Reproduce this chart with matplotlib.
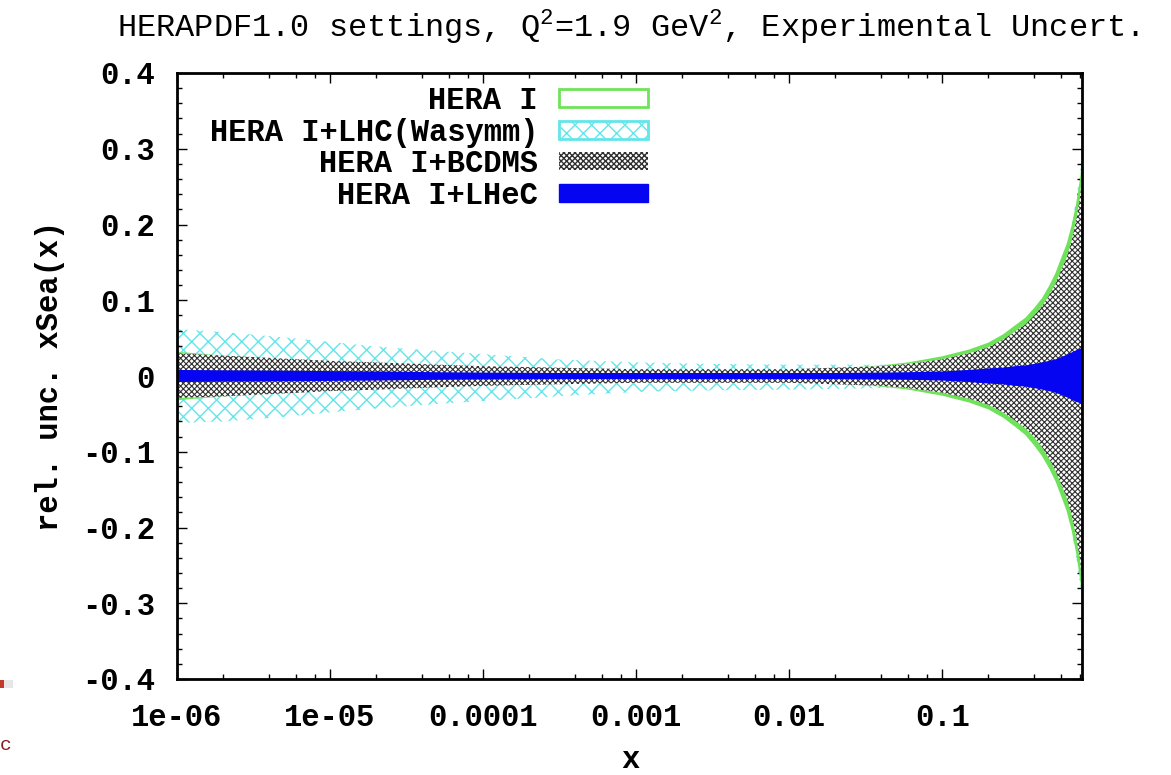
import matplotlib
matplotlib.use("Agg")
import matplotlib.pyplot as plt
from matplotlib.patches import Patch, Rectangle
from matplotlib.ticker import FixedLocator, LogLocator, NullFormatter, MultipleLocator

plt.rcParams['font.family'] = ['Liberation Mono', 'DejaVu Sans']
plt.rcParams['mathtext.fontset'] = 'custom'
plt.rcParams['mathtext.rm'] = 'Liberation Mono'

# x grid of the uncertainty bands
x = [1e-6, 2e-6, 5e-6, 1e-5, 2e-5, 5e-5, 1e-4, 3e-4, 1e-3, 3e-3, 1e-2, 2e-2, 4e-2, 6e-2,
     0.1, 0.15, 0.2, 0.25, 0.3, 0.35, 0.4, 0.45, 0.5, 0.55, 0.6, 0.65, 0.7, 0.75, 0.8, 0.82]

# relative uncertainty, upper / lower edge of each band
hera_up = [0.032, 0.027, 0.022, 0.019, 0.017, 0.014, 0.012, 0.010, 0.008, 0.008, 0.008, 0.010, 0.014, 0.018,
           0.026, 0.035, 0.044, 0.055, 0.067, 0.077, 0.090, 0.103, 0.119, 0.136, 0.156, 0.174, 0.198, 0.227, 0.263, 0.290]
hera_lo = [-0.032, -0.027, -0.022, -0.019, -0.017, -0.014, -0.012, -0.010, -0.008, -0.008, -0.008, -0.010, -0.014, -0.018,
           -0.026, -0.035, -0.044, -0.055, -0.067, -0.078, -0.092, -0.106, -0.122, -0.139, -0.159, -0.178, -0.203, -0.233, -0.271, -0.298]

lhc_up = [0.062, 0.058, 0.051, 0.045, 0.039, 0.033, 0.029, 0.022, 0.018, 0.016, 0.015, 0.015, 0.015, 0.016,
          0.020, 0.028, 0.036, 0.046, 0.056, 0.066, 0.078, 0.090, 0.105, 0.120, 0.140, 0.160, 0.200, 0.232, 0.272, 0.305]
lhc_lo = [-0.062, -0.060, -0.054, -0.048, -0.043, -0.037, -0.033, -0.027, -0.021, -0.019, -0.018, -0.017, -0.016, -0.016,
          -0.020, -0.028, -0.036, -0.046, -0.056, -0.066, -0.078, -0.090, -0.105, -0.120, -0.140, -0.160, -0.205, -0.238, -0.278, -0.310]

bcdms_up = [0.030, 0.027, 0.023, 0.020, 0.018, 0.015, 0.013, 0.011, 0.009, 0.009, 0.009, 0.011, 0.013, 0.016,
            0.022, 0.030, 0.038, 0.048, 0.059, 0.068, 0.080, 0.092, 0.107, 0.122, 0.140, 0.156, 0.178, 0.205, 0.240, 0.268]
bcdms_lo = [-0.029, -0.027, -0.023, -0.020, -0.018, -0.015, -0.013, -0.011, -0.009, -0.009, -0.009, -0.011, -0.013, -0.016,
            -0.022, -0.030, -0.038, -0.048, -0.059, -0.069, -0.081, -0.094, -0.109, -0.125, -0.143, -0.160, -0.183, -0.211, -0.247, -0.275]

lhec_up = [0.008, 0.0075, 0.007, 0.0065, 0.006, 0.005, 0.0045, 0.004, 0.004, 0.004, 0.004, 0.004, 0.0045, 0.005,
           0.006, 0.008, 0.010, 0.011, 0.013, 0.014, 0.016, 0.018, 0.020, 0.022, 0.025, 0.028, 0.031, 0.034, 0.036, 0.037]
lhec_lo = [-v for v in lhec_up]

labels = ["HERA I", "HERA I+LHC(Wasymm)", "HERA I+BCDMS", "HERA I+LHeC"]
xticks = [1e-6, 1e-5, 1e-4, 1e-3, 1e-2, 0.1]
xticklabels = ["1e-06", "1e-05", "0.0001", "0.001", "0.01", "0.1"]
yticks = [-0.4, -0.3, -0.2, -0.1, 0.0, 0.1, 0.2, 0.3, 0.4]
yticklabels = ["-0.4", "-0.3", "-0.2", "-0.1", "0", "0.1", "0.2", "0.3", "0.4"]

green = '#6ee35a'
cyan = '#62e6ea'
blue = '#0505f2'
grey = '#303030'

W, H = 1171, 775
fig = plt.figure(figsize=(W / 100, H / 100), dpi=100)
ax = fig.add_axes([177 / W, 1 - 679 / H, (1082 - 177) / W, (679 - 73) / H])


def set_hlw(coll, lw):
    if hasattr(coll, 'set_hatch_linewidth'):
        coll.set_hatch_linewidth(lw)


with plt.rc_context({'hatch.linewidth': 1.0}):
    c1 = ax.fill_between(x, lhc_lo, lhc_up, facecolor='white', edgecolor=cyan, hatch='xx', linewidth=0, zorder=1)
set_hlw(c1, 1.0)
ax.fill_between(x, hera_lo, hera_up, facecolor=green, edgecolor='none', linewidth=0, zorder=2)
with plt.rc_context({'hatch.linewidth': 0.8}):
    c3 = ax.fill_between(x, bcdms_lo, bcdms_up, facecolor='white', edgecolor=grey, hatch='xxxxxx', linewidth=0, zorder=3)
set_hlw(c3, 0.8)
ax.fill_between(x, lhec_lo, lhec_up, facecolor=blue, edgecolor='none', linewidth=0, zorder=4)

ax.set_xscale('log')
ax.set_xlim(1e-6, 0.82)
ax.set_ylim(-0.4, 0.4)
ax.xaxis.set_major_locator(FixedLocator(xticks))
ax.set_xticklabels(xticklabels)
ax.xaxis.set_minor_locator(LogLocator(base=10, subs=[2, 4, 6, 8]))
ax.xaxis.set_minor_formatter(NullFormatter())
ax.set_yticks(yticks)
ax.set_yticklabels(yticklabels)
ax.yaxis.set_minor_locator(MultipleLocator(0.02))

for s in ax.spines.values():
    s.set_linewidth(2.0)
    s.set_zorder(5)
ax.tick_params(which='both', direction='in', top=True, right=True, width=1.0)
ax.tick_params(which='major', length=7)
ax.tick_params(which='minor', length=3.5)
ax.tick_params(axis='y', pad=16)
ax.tick_params(axis='x', pad=17)
for lab in ax.get_xticklabels() + ax.get_yticklabels():
    lab.set_fontsize(22)
    lab.set_fontweight('bold')

fig.text(50 / W, 1 - 376 / H, "rel. unc. xSea(x)", rotation=90, ha='center', va='center',
         fontsize=22, fontweight='bold')
fig.text(630 / W, 1 - 760 / H, "x", ha='center', va='center', fontsize=22, fontweight='bold')

fig.text(628 / W, 1 - 37 / H, r"HERAPDF1.0 settings, Q$^2$=1.9 GeV$^2$, Experimental Uncert.",
         ha='center', va='baseline', fontsize=23)

handles = [
    Patch(facecolor='white', edgecolor=green, linewidth=2),
    Patch(facecolor='white', edgecolor=cyan, hatch='xx', linewidth=2),
    Patch(facecolor='white', edgecolor=grey, hatch='xxxxxx', linewidth=0),
    Patch(facecolor=blue, edgecolor=blue, linewidth=1),
]
leg = ax.legend(handles, labels, loc='upper right', bbox_to_anchor=(648 / W, 1 - 86 / H),
                bbox_transform=fig.transFigure, frameon=False, markerfirst=False,
                prop={'family': 'Liberation Mono', 'weight': 'bold', 'size': 22},
                handlelength=2.9, handleheight=0.55, handletextpad=0.7,
                labelspacing=0.05, borderpad=0, borderaxespad=0)

# scraps of a neighbouring slide at the left edge
fig.patches.append(Rectangle((0, 1 - 688 / H), 4 / W, 8 / H, transform=fig.transFigure,
                             facecolor='#c0392b', edgecolor='none'))
fig.patches.append(Rectangle((4 / W, 1 - 688 / H), 9 / W, 8 / H, transform=fig.transFigure,
                             facecolor='#e6e6e6', edgecolor='none'))
fig.text(0.0, 1 - 745 / H, "c", color='#8b1a1a', fontsize=14, ha='left', va='center')

fig.savefig("out.png", dpi=100)
